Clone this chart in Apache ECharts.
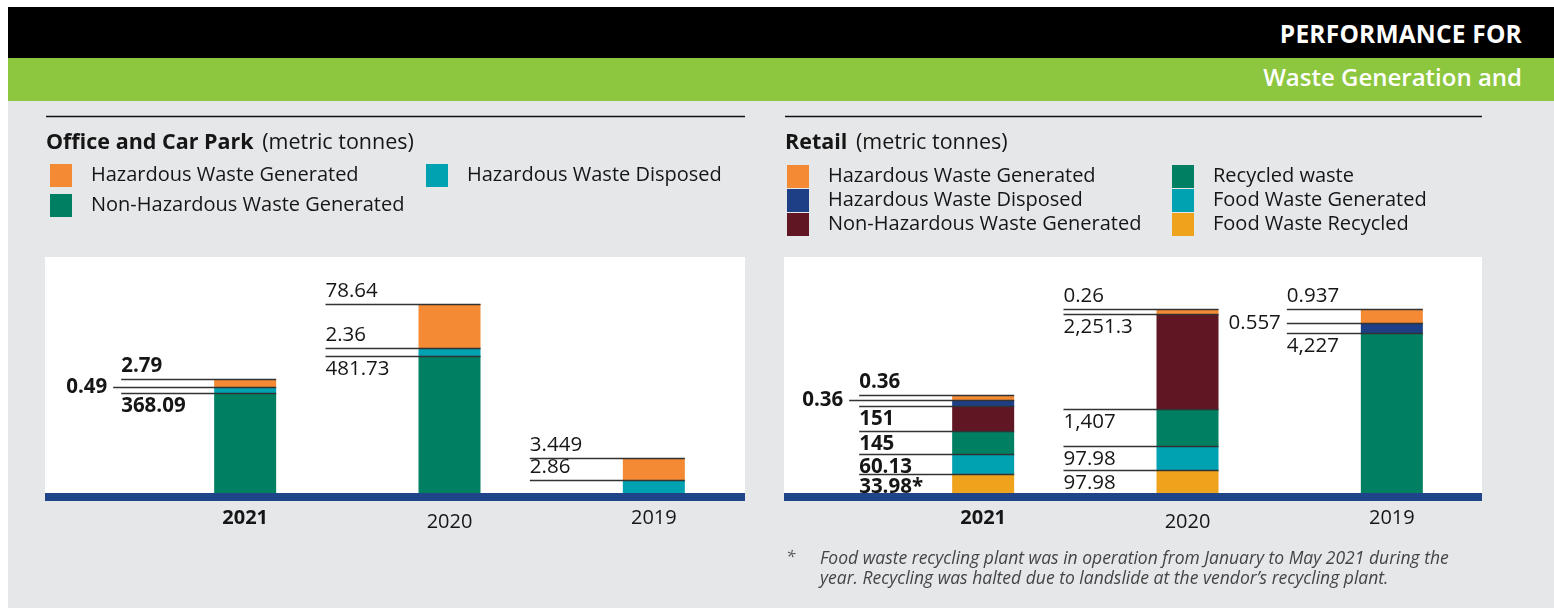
<!DOCTYPE html>
<html>
<head>
<meta charset="utf-8">
<title>Waste Generation</title>
<script src="https://cdn.jsdelivr.net/npm/echarts@6/dist/echarts.min.js"></script>
<style>
  html, body { margin: 0; padding: 0; width: 1554px; height: 608px; background: #fff; overflow: hidden; font-family: "Open Sans", sans-serif; }
  .band { position: absolute; left: 8px; width: 1546px; }
  #bg { top: 7px; height: 601px; background: #e6e7e9; }
  #black { top: 7px; height: 51px; background: #000; }
  #green { top: 58px; height: 43px; background: #8dc63f; }
  .head { position: absolute; right: 32px; color: #fff; white-space: nowrap; }
  #h1 { top: 17px; font-size: 24.5px; font-weight: 700; line-height: 34px; letter-spacing: 0.2px; }
  #h2 { top: 60px; font-size: 24px; font-weight: 600; line-height: 34px; }
  #officeChart { position: absolute; left: 0; top: 101px; width: 770px; height: 507px; }
  #retailChart { position: absolute; left: 770px; top: 101px; width: 784px; height: 507px; }
</style>
</head>
<body>
<div id="bg" class="band"></div>
<div id="black" class="band"></div>
<div id="green" class="band"></div>
<div id="h1" class="head">PERFORMANCE FOR</div>
<div id="h2" class="head">Waste Generation and</div>
<div id="officeChart"></div>
<div id="retailChart"></div>

<script>
// years on both charts
const years = ['2021', '2020', '2019'];

// the bars in this graphic are not drawn to scale, so each segment keeps two arrays:
// the printed figure and the segment size
// Office and Car Park
const officeHazGenLabel = ['2.79', '78.64', '3.449'];
const officeHazGenDrawn = [8, 44, 22];
const officeHazDispLabel = ['0.49', '2.36', '2.86'];
const officeHazDispDrawn = [6, 8, 13];
const officeNonHazLabel = ['368.09', '481.73', null];
const officeNonHazDrawn = [100, 137, 0];

// Retail
const retailHazGenLabel = ['0.36', '0.26', '0.937'];
const retailHazGenDrawn = [5, 5, 14];
const retailHazDispLabel = ['0.36', null, '0.557'];
const retailHazDispDrawn = [6, 0, 10];
const retailNonHazLabel = ['151', '2,251.3', null];
const retailNonHazDrawn = [25, 95, 0];
const retailRecycledLabel = ['145', '1,407', '4,227'];
const retailRecycledDrawn = [23, 37, 160];
const retailFoodGenLabel = ['60.13', '97.98', null];
const retailFoodGenDrawn = [20, 24, 0];
const retailFoodRecLabel = ['33.98*', '97.98', null];
const retailFoodRecDrawn = [19, 23, 0];

const FONT = '"Open Sans", sans-serif';
const C = {
  orange: '#f58a35', teal: '#00a1b1', green: '#007f62', navy: '#1d3f86',
  maroon: '#611623', yellow: '#efa21c', axis: '#1f4488', text: '#161616'
};

// stack: bottom -> top. pos = where the figure sits against its leader line
function buildNotes(stack) {
  const cum = years.map(() => 0);
  const notes = [];
  stack.forEach(s => {
    years.forEach((y, i) => {
      cum[i] += s.drawn[i];
      if (s.label[i] != null) notes.push({ cat: i, top: cum[i], text: s.label[i], pos: s.pos[i] });
    });
  });
  return notes;
}

function noteRenderer(notes, lead, leftExtra) {
  return function (params, api) {
    const n = notes[params.dataIndex];
    const p = api.coord([n.cat, n.top]);
    const y = Math.round(p[1]) + 0.5;
    const x1 = p[0] + 31;
    let x0 = p[0] - 31 - lead[n.cat];
    if (n.pos === 'left') x0 -= leftExtra[n.cat];
    const font = (n.cat === 0 ? 'bold ' : '') + '20.5px ' + FONT;
    let t;
    if (n.pos === 'left') t = { x: x0 - 6, y: y, align: 'right' };
    else if (n.pos === 'above') t = { x: x0, y: y - 13, align: 'left' };
    else t = { x: x0, y: y + 13, align: 'left' };
    return {
      type: 'group',
      children: [
        { type: 'line', shape: { x1: x0, y1: y, x2: x1, y2: y }, style: { stroke: '#333', lineWidth: 1.3 } },
        { type: 'text', style: { x: t.x, y: t.y, text: n.text, align: t.align, verticalAlign: 'middle', font: font, fill: C.text } }
      ]
    };
  };
}

function legend(left, top, names, gap) {
  return {
    left: left, top: top, orient: 'vertical', padding: 0, itemGap: gap,
    itemWidth: 22, itemHeight: 23, icon: 'rect', selectedMode: false,
    textStyle: { fontSize: 20, fontFamily: FONT, color: C.text, padding: [0, 0, 0, 14] },
    data: names
  };
}

function baseOption(gridLeft, boxLeft, boxRight, title) {
  return {
    animation: false,
    backgroundColor: 'transparent',
    textStyle: { fontFamily: FONT },
    grid: { left: gridLeft, width: 613, top: 156, height: 236 },
    xAxis: {
      type: 'category',
      data: years.map((y, i) => ({ value: y, textStyle: { fontWeight: i === 0 ? 'bold' : 'normal', padding: i === 1 ? [4, 0, 0, 0] : 0 } })),
      axisLine: { show: false }, axisTick: { show: false },
      axisLabel: { fontSize: 20, color: C.text, margin: 15, fontFamily: FONT }
    },
    yAxis: { type: 'value', min: 0, max: 236, show: false },
    graphic: [
      { type: 'line', shape: { x1: boxLeft + 1, y1: 15.5, x2: boxRight, y2: 15.5 }, style: { stroke: '#111', lineWidth: 1.3 } },
      { type: 'text', left: boxLeft + 1, top: 31, style: {
          text: '{b|' + title + '}{n| (metric tonnes)}',
          rich: { b: { fontSize: 21.5, fontWeight: 'bold', fontFamily: FONT, fill: C.text }, n: { fontSize: 21.5, fontFamily: FONT, fill: C.text, padding: [0, 0, 0, 3] } }
      } },
      { type: 'rect', shape: { x: boxLeft, y: 156, width: boxRight - boxLeft, height: 236 }, style: { fill: '#fff' }, z: -10 },
      { type: 'rect', shape: { x: boxLeft, y: 392, width: boxRight - boxLeft, height: 8 }, style: { fill: C.axis } }
    ]
  };
}

function bar(name, data, color) {
  return { name: name, type: 'bar', stack: 'w', barWidth: 62, data: data, itemStyle: { color: color }, emphasis: { disabled: true }, silent: true };
}

// ---- Office and Car Park
const officeStack = [
  { name: 'Non-Hazardous Waste Generated', drawn: officeNonHazDrawn, label: officeNonHazLabel, color: C.green, pos: ['below', 'below', 'below'] },
  { name: 'Hazardous Waste Disposed', drawn: officeHazDispDrawn, label: officeHazDispLabel, color: C.teal, pos: ['left', 'above', 'above'] },
  { name: 'Hazardous Waste Generated', drawn: officeHazGenDrawn, label: officeHazGenLabel, color: C.orange, pos: ['above', 'above', 'above'] }
];
const officeNotes = buildNotes(officeStack);
const officeOption = baseOption(143, 45, 745, 'Office and Car Park');
officeOption.legend = [
  legend(50, 63, ['Hazardous Waste Generated', 'Non-Hazardous Waste Generated'], 7),
  legend(426, 63, ['Hazardous Waste Disposed'], 7)
];
officeOption.series = officeStack.map(s => bar(s.name, s.drawn, s.color)).concat([{
  type: 'custom', silent: true, z: 5,
  renderItem: noteRenderer(officeNotes, [93, 93, 93], [8, 0, 0]),
  data: officeNotes.map(n => [n.cat, n.top])
}]);
echarts.init(document.getElementById('officeChart')).setOption(officeOption);

// ---- Retail
const retailStack = [
  { name: 'Food Waste Recycled', drawn: retailFoodRecDrawn, label: retailFoodRecLabel, color: C.yellow, pos: ['below', 'below', 'below'] },
  { name: 'Food Waste Generated', drawn: retailFoodGenDrawn, label: retailFoodGenLabel, color: C.teal, pos: ['below', 'below', 'below'] },
  { name: 'Recycled waste', drawn: retailRecycledDrawn, label: retailRecycledLabel, color: C.green, pos: ['below', 'below', 'below'] },
  { name: 'Non-Hazardous Waste Generated', drawn: retailNonHazDrawn, label: retailNonHazLabel, color: C.maroon, pos: ['below', 'below', 'below'] },
  { name: 'Hazardous Waste Disposed', drawn: retailHazDispDrawn, label: retailHazDispLabel, color: C.navy, pos: ['left', 'left', 'left'] },
  { name: 'Hazardous Waste Generated', drawn: retailHazGenDrawn, label: retailHazGenLabel, color: C.orange, pos: ['above', 'above', 'above'] }
];
const retailNotes = buildNotes(retailStack);
const retailOption = baseOption(111, 14, 712, 'Retail');
retailOption.legend = [
  legend(17, 64, ['Hazardous Waste Generated', 'Hazardous Waste Disposed', 'Non-Hazardous Waste Generated'], 1),
  legend(402, 64, ['Recycled waste', 'Food Waste Generated', 'Food Waste Recycled'], 1)
];
retailOption.graphic.push(
  { type: 'text', left: 16, top: 448, style: { text: '*', font: 'italic 17px ' + FONT, fill: '#555' } },
  { type: 'text', left: 50, top: 448, style: {
      text: 'Food waste recycling plant was in operation from January to May 2021 during the\nyear. Recycling was halted due to landslide at the vendor\u2019s recycling plant.',
      font: 'italic 17.5px ' + FONT, lineHeight: 20, fill: '#444' } }
);
retailOption.series = retailStack.map(s => bar(s.name, s.drawn, s.color)).concat([{
  type: 'custom', silent: true, z: 5,
  renderItem: noteRenderer(retailNotes, [93, 93, 74], [10, 0, 0]),
  data: retailNotes.map(n => [n.cat, n.top])
}]);
echarts.init(document.getElementById('retailChart')).setOption(retailOption);
</script>
</body>
</html>
